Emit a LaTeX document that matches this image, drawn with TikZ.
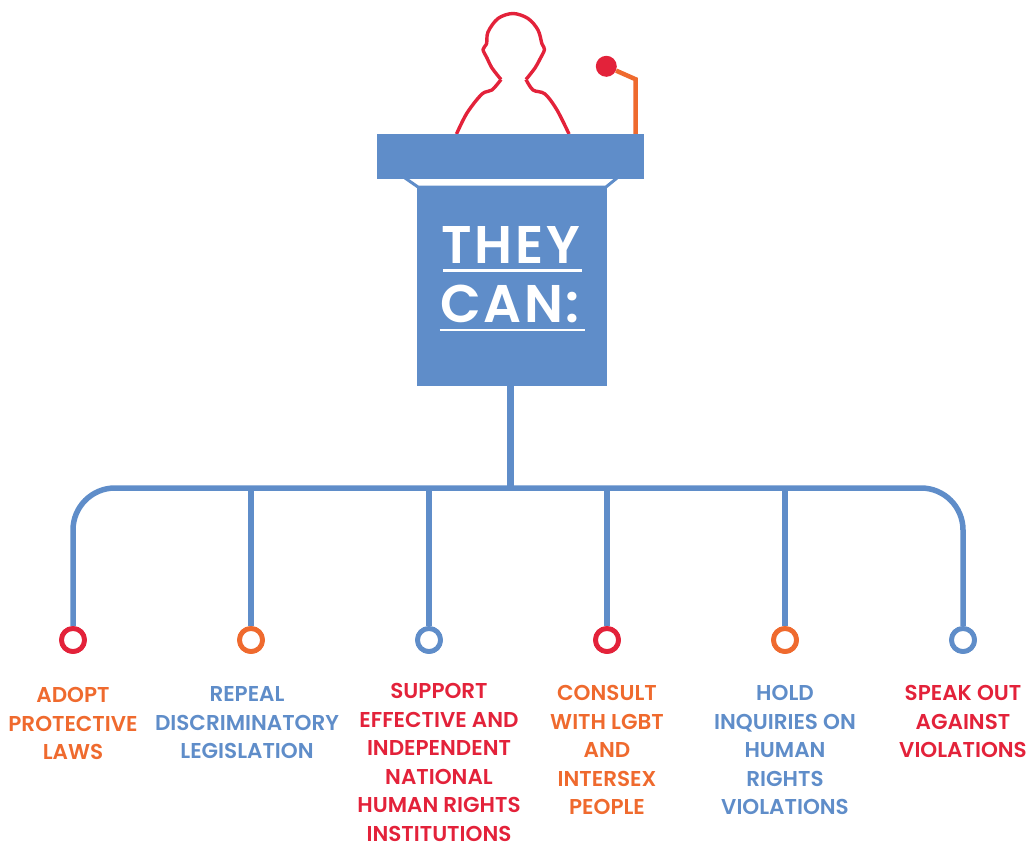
\documentclass[tikz,border=0pt]{standalone}
\usepackage{fontspec}
\setmainfont{Poppins}[BoldFont={Poppins SemiBold}]
\definecolor{podblue}{HTML}{5F8DC9}
\definecolor{talkred}{HTML}{E3223A}
\definecolor{talkorange}{HTML}{EF6A2E}
\tikzset{
  busline/.style={draw=podblue, line width=5.5pt},
  ringnode/.style={circle, draw=#1, line width=4.8pt, fill=white, minimum size=23pt, inner sep=0pt},
  podbox/.style={rectangle, fill=podblue, inner sep=0pt},
  bigtext/.style={text=white, inner sep=0pt, font=\fontsize{53}{53}\selectfont\bfseries\addfontfeatures{LetterSpace=5}},
  labeltext/.style={text=#1, anchor=north, inner sep=0pt, align=center, font=\fontsize{21.5}{28.5}\selectfont\bfseries},
  talkerline/.style={talkred, line width=3.4pt, line join=round},
}
\begin{document}
\begin{tikzpicture}[x=1pt,y=-1pt]
\useasboundingbox (0,0) rectangle (1031,841);

\draw [talkerline] plot [smooth, tension=.55] coordinates {(456.5,134) (467,113) (482,94) (492,90) (501,79.5)};
\draw [talkerline] plot [smooth, tension=.55] coordinates {(501,79.5) (492,68) (487,58) (483,49.5) (486.5,44) (488,32) (498,18.5) (513,13.5) (528,18.5) (538,30) (542,44) (544.5,49.5) (540,59) (535,68) (526,79.5)};
\draw [talkerline] plot [smooth, tension=.55] coordinates {(526,79.5) (533,90) (545,94) (557,110) (569,134)};

\node [circle, fill=talkred, minimum size=21pt, inner sep=0pt] (micball) at (606.3,66.3) {};
\coordinate (micbend) at (635.7,79.3);
\coordinate (micfoot) at (635.7,134);
\draw [talkorange, line width=4.5pt] (micball) -- (micbend) -- (micfoot);

\node [podbox, minimum width=266.5pt, minimum height=44.5pt] (podtop) at (510.25,156.25) {};
\draw [podblue, line width=3pt] (405,178) -- (418,187) -- (606,187) -- (617,178);
\node [podbox, minimum width=190pt, minimum height=200pt] (podbody) at (512,286) {};

\node [bigtext] (they) at (511,244.5) {THEY};
\node [bigtext] (can) at (510,304) {CAN:};
\draw [white, line width=2.5pt] (443,270.5) -- (582,270.5);
\draw [white, line width=2.5pt] (439.5,330) -- (585,330);

\node [ringnode=talkred] (ring1) at (73,640) {};
\node [ringnode=talkorange] (ring2) at (251,640) {};
\node [ringnode=podblue] (ring3) at (429,640) {};
\node [ringnode=talkred] (ring4) at (607,640) {};
\node [ringnode=talkorange] (ring5) at (785,640) {};
\node [ringnode=podblue] (ring6) at (963,640) {};

\coordinate (bus) at (510,488);
\draw [busline, line width=7pt] (bus |- podbody.south) -- (bus);
\draw [busline, rounded corners=42pt] (ring1) |- (bus) -| (ring6);
\draw [busline] (ring2 |- bus) -- (ring2);
\draw [busline] (ring3 |- bus) -- (ring3);
\draw [busline] (ring4 |- bus) -- (ring4);
\draw [busline] (ring5 |- bus) -- (ring5);
\node [ringnode=talkred] at (ring1) {};
\node [ringnode=talkorange] at (ring2) {};
\node [ringnode=podblue] at (ring3) {};
\node [ringnode=talkred] at (ring4) {};
\node [ringnode=talkorange] at (ring5) {};
\node [ringnode=podblue] at (ring6) {};

\node [labeltext=talkorange] (adopt) at (73,687.5) {ADOPT\\PROTECTIVE\\LAWS};
\node [labeltext=podblue] (repeal) at (247,686.5) {REPEAL\\DISCRIMINATORY\\LEGISLATION};
\node [labeltext=talkred] (support) at (439,683.5) {SUPPORT\\EFFECTIVE AND\\INDEPENDENT\\NATIONAL\\HUMAN RIGHTS\\INSTITUTIONS};
\node [labeltext=talkorange] (consult) at (607,685.5) {CONSULT\\WITH LGBT\\AND\\INTERSEX\\PEOPLE};
\node [labeltext=podblue] (hold) at (785,685.5) {HOLD\\INQUIRIES ON\\HUMAN\\RIGHTS\\VIOLATIONS};
\node [labeltext=talkred] (speak) at (963,685.5) {SPEAK OUT\\AGAINST\\VIOLATIONS};

\end{tikzpicture}
\end{document}
